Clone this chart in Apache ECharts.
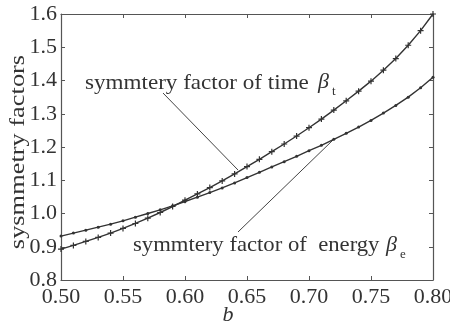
<!DOCTYPE html>
<html>
<head>
<meta charset="utf-8">
<script src="https://cdn.jsdelivr.net/npm/echarts@6/dist/echarts.min.js"></script>
<style>
  html, body { margin: 0; padding: 0; background: #fff; }
  #chart { width: 450px; height: 327px; }
</style>
</head>
<body>
<div id="chart"></div>
<script>
// b values (x axis), one mark every 0.01
const bValues = [0.50, 0.51, 0.52, 0.53, 0.54, 0.55, 0.56, 0.57, 0.58, 0.59,
  0.60, 0.61, 0.62, 0.63, 0.64, 0.65, 0.66, 0.67, 0.68, 0.69,
  0.70, 0.71, 0.72, 0.73, 0.74, 0.75, 0.76, 0.77, 0.78, 0.79, 0.80];

// symmetry factor of time (beta_t)
const timeFactor = [0.893, 0.904, 0.916, 0.928, 0.941, 0.955, 0.970, 0.986, 1.003, 1.021,
  1.040, 1.059, 1.078, 1.098, 1.119, 1.141, 1.163, 1.186, 1.209, 1.233,
  1.258, 1.284, 1.311, 1.339, 1.368, 1.398, 1.431, 1.466, 1.506, 1.550, 1.600];

// symmetry factor of energy (beta_e)
const energyFactor = [0.932, 0.941, 0.950, 0.959, 0.968, 0.978, 0.989, 1.000, 1.011, 1.023,
  1.036, 1.049, 1.063, 1.077, 1.092, 1.108, 1.124, 1.140, 1.156, 1.172,
  1.189, 1.205, 1.223, 1.241, 1.260, 1.280, 1.302, 1.325, 1.350, 1.378, 1.410];

const xTicks = [0.50, 0.55, 0.60, 0.65, 0.70, 0.75, 0.80];
const yTicks = [0.8, 0.9, 1.0, 1.1, 1.2, 1.3, 1.4, 1.5, 1.6];

const serif = '"Liberation Serif", "Times New Roman", serif';
const ink = '#333';

const chart = echarts.init(document.getElementById('chart'), null, { renderer: 'canvas' });

const pairs = vals => bValues.map((b, i) => [b, vals[i]]);

const axisCommon = {
  axisLine: { show: true, lineStyle: { color: '#555', width: 1.2 } },
  axisTick: { show: true, inside: true, length: 4, lineStyle: { color: '#555' } },
  splitLine: { show: false }
};

chart.setOption({
  animation: false,
  backgroundColor: '#fff',
  grid: { left: 61, top: 14, width: 372, height: 266, outerBoundsMode: 'none' },
  xAxis: [
    Object.assign({
      type: 'value', min: xTicks[0], max: xTicks[xTicks.length - 1], interval: 0.05,
      position: 'bottom',
      axisLabel: {
        margin: 6, color: ink, fontFamily: serif, fontSize: 22,
        formatter: v => v.toFixed(2)
      }
    }, axisCommon),
    Object.assign({
      type: 'value', min: xTicks[0], max: xTicks[xTicks.length - 1], interval: 0.05,
      position: 'top', axisLabel: { show: false }
    }, axisCommon)
  ],
  yAxis: [
    Object.assign({
      type: 'value', min: yTicks[0], max: yTicks[yTicks.length - 1], interval: 0.1,
      position: 'left',
      axisLabel: {
        margin: 4, color: ink, fontFamily: serif, fontSize: 22,
        formatter: v => v.toFixed(1)
      }
    }, axisCommon),
    Object.assign({
      type: 'value', min: yTicks[0], max: yTicks[yTicks.length - 1], interval: 0.1,
      position: 'right', axisLabel: { show: false }
    }, axisCommon)
  ],
  series: [
    {
      name: 'time',
      type: 'line',
      data: pairs(timeFactor),
      symbol: 'path://M4,0h2v4h4v2h-4v4h-2v-4h-4v-2h4z',
      symbolSize: 6,
      lineStyle: { color: '#333', width: 1.4 },
      itemStyle: { color: '#333' }
    },
    {
      name: 'energy',
      type: 'line',
      data: pairs(energyFactor),
      symbol: 'circle',
      symbolSize: 3,
      lineStyle: { color: '#333', width: 1.4 },
      itemStyle: { color: '#333' }
    }
  ],
  graphic: [
    // y axis title
    {
      type: 'text', x: 18, y: 152, rotation: Math.PI / 2, scaleX: 1.2,
      style: { text: 'sysmmetry factors', font: '22px ' + serif, fill: ink, align: 'center', verticalAlign: 'middle' }
    },
    // x axis title
    {
      type: 'text', x: 228, y: 315,
      style: { text: 'b', font: 'italic 22px ' + serif, fill: ink, align: 'center', verticalAlign: 'middle' }
    },
    // annotation: time
    {
      type: 'text', x: 85, y: 83, scaleX: 1.1,
      style: { text: 'symmtery factor of time', font: '21px ' + serif, fill: ink, align: 'left', verticalAlign: 'middle' }
    },
    {
      type: 'text', x: 318, y: 82,
      style: { text: 'β', font: 'italic 22px ' + serif, fill: ink, align: 'left', verticalAlign: 'middle' }
    },
    {
      type: 'text', x: 332, y: 92,
      style: { text: 't', font: '13px ' + serif, fill: ink, align: 'left', verticalAlign: 'middle' }
    },
    {
      type: 'line', shape: { x1: 163, y1: 93, x2: 238, y2: 170 },
      style: { stroke: '#444', lineWidth: 1 }
    },
    // annotation: energy
    {
      type: 'text', x: 133, y: 245, scaleX: 1.08,
      style: { text: 'symmtery factor of  energy', font: '21px ' + serif, fill: ink, align: 'left', verticalAlign: 'middle' }
    },
    {
      type: 'text', x: 386, y: 245,
      style: { text: 'β', font: 'italic 22px ' + serif, fill: ink, align: 'left', verticalAlign: 'middle' }
    },
    {
      type: 'text', x: 400, y: 255,
      style: { text: 'e', font: '13px ' + serif, fill: ink, align: 'left', verticalAlign: 'middle' }
    },
    {
      type: 'line', shape: { x1: 238, y1: 232, x2: 333, y2: 140 },
      style: { stroke: '#444', lineWidth: 1 }
    }
  ]
});
</script>
</body>
</html>
